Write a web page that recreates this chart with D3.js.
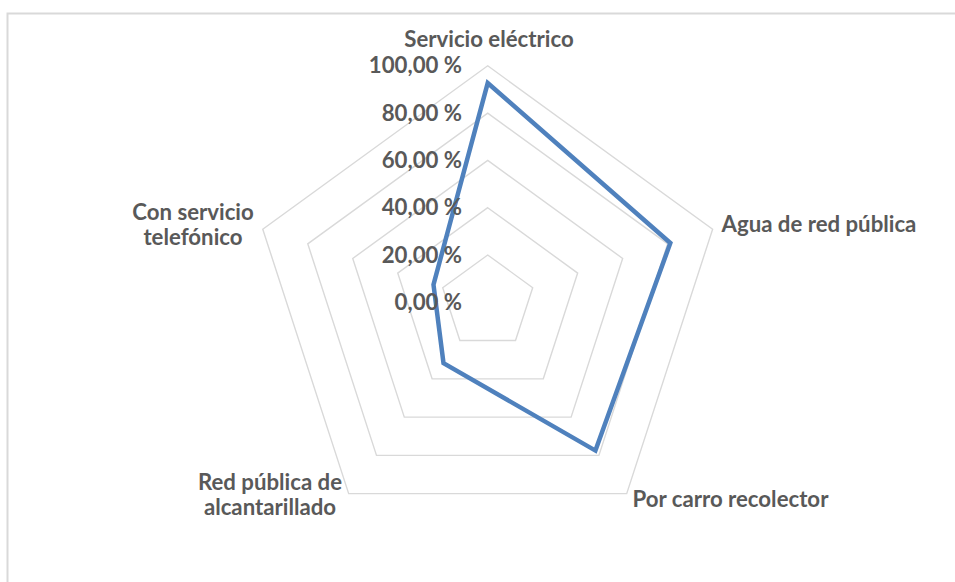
<!DOCTYPE html>
<html>
<head>
<meta charset="utf-8">
<script src="https://cdn.jsdelivr.net/npm/d3@7"></script>
<style>
  html, body { margin: 0; padding: 0; background: #ffffff; }
  svg { display: block; }
  text { font-family: Lato, "Open Sans", sans-serif; font-weight: 700; fill: #595959; }
</style>
</head>
<body>
<svg id="chart" width="955" height="582"></svg>
<script>
// Categories around the radar, clockwise from the top
const categories = [
  ["Servicio eléctrico"],
  ["Agua de red pública"],
  ["Por carro recolector"],
  ["Red pública de", "alcantarillado"],
  ["Con servicio", "telefónico"]
];
// Share of households with each service (fraction of 1)
const values = [0.927, 0.812, 0.775, 0.318, 0.241];
// Radial axis ticks and their labels
const tickValues = [0, 0.2, 0.4, 0.6, 0.8, 1.0];
const tickLabels = ["0,00 %", "20,00 %", "40,00 %", "60,00 %", "80,00 %", "100,00 %"];

const svg = d3.select("#chart");
const W = 955, H = 582;
const cx = 487.7, cy = 302.3, R = 236.5;

// Chart-area frame (right and bottom edges run off the page)
svg.append("path")
  .attr("d", `M${W + 5},13.5 H7.5 V${H + 5}`)
  .attr("fill", "none")
  .attr("stroke", "#d9d9d9")
  .attr("stroke-width", 2);

const r = d3.scaleLinear().domain([0, 1]).range([0, R]);
const angle = d3.scaleLinear().domain([0, categories.length]).range([0, 2 * Math.PI]);
const pt = (i, v) => [cx + r(v) * Math.sin(angle(i)), cy - r(v) * Math.cos(angle(i))];

// Concentric pentagon gridlines
const grid = svg.append("g");
tickValues.filter(t => t > 0).forEach(t => {
  grid.append("path")
    .attr("d", d3.line()(categories.map((_, i) => pt(i, t))) + "Z")
    .attr("fill", "none")
    .attr("stroke", "#d9d9d9")
    .attr("stroke-width", 1.4);
});

// Data series
svg.append("path")
  .attr("d", d3.line()(values.map((v, i) => pt(i, v))) + "Z")
  .attr("fill", "none")
  .attr("stroke", "#4f81bd")
  .attr("stroke-width", 4.5)
  .attr("stroke-linejoin", "miter");

// Pick a font size so the labels keep their set widths
const probe = svg.append("text").attr("font-size", 20).text("Agua de red pública");
const fs = 20 * 195 / probe.node().getComputedTextLength();
probe.remove();

// Radial tick labels
svg.append("g").selectAll("text")
  .data(tickValues)
  .join("text")
  .attr("x", 462)
  .attr("y", d => cy - r(d) + 7.5)
  .attr("text-anchor", "end")
  .attr("font-size", fs)
  .text((d, i) => tickLabels[i]);

// Category labels
const labelPos = [
  { x: 489, y: 47, anchor: "middle" },
  { x: 721.5, y: 231.5, anchor: "start" },
  { x: 632.5, y: 506.5, anchor: "start" },
  { x: 270, y: 490, anchor: "middle" },
  { x: 193, y: 220, anchor: "middle" }
];
categories.forEach((lines, i) => {
  const p = labelPos[i];
  const t = svg.append("text")
    .attr("x", p.x).attr("y", p.y)
    .attr("text-anchor", p.anchor)
    .attr("font-size", fs);
  lines.forEach((s, k) => {
    t.append("tspan").attr("x", p.x).attr("dy", k === 0 ? 0 : 25).text(s);
  });
});
</script>
</body>
</html>
